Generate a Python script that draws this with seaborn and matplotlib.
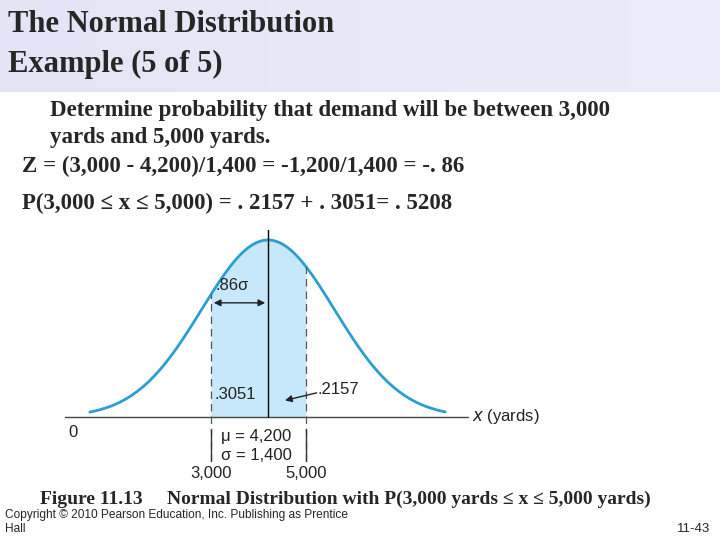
import numpy as np
import matplotlib
matplotlib.use("Agg")
import matplotlib.pyplot as plt
import seaborn as sns

# values
mu = 4200
sigma = 1400
lower, upper = 3000, 5000
area_left = .3051
area_right = .2157
z_lower = -.86
curve_from, curve_to = 450, 7930

sns.set_theme(style="white")
plt.rcParams["font.family"] = ["Liberation Serif", "DejaVu Serif"]

fig = plt.figure(figsize=(7.2, 5.4), dpi=100)

# header band
band = fig.add_axes([0, 1 - 92 / 540, 1, 92 / 540])
grad = np.linspace(0, 1, 256).reshape(1, -1)
band.imshow(grad, aspect="auto", cmap=matplotlib.colors.LinearSegmentedColormap.from_list(
    "b", ["#e4e4f6", "#ececfa"]), extent=[0, 1, 0, 1])
band.axis("off")

fig.text(8 / 720, 1 - 25 / 540, "The Normal Distribution", fontsize=22, fontweight="bold", va="center")
fig.text(8 / 720, 1 - 64 / 540, "Example (5 of 5)", fontsize=22, fontweight="bold", va="center")

body = [
    (50, 111, "Determine probability that demand will be between 3,000"),
    (50, 138, "yards and 5,000 yards."),
    (22, 166, "Z = (3,000 - 4,200)/1,400 = -1,200/1,400 = -. 86"),
    (22, 203, "P(3,000 \u2264 x \u2264 5,000) = . 2157 + . 3051= . 5208"),
]
for x, y, s in body:
    fig.text(x / 720, 1 - y / 540, s, fontsize=16.5, fontweight="bold", va="center")

# chart
ax = fig.add_axes([65 / 720, 60 / 540, 475 / 720, 250 / 540])
xs = np.linspace(curve_from, curve_to, 400)
ys = np.exp(-0.5 * ((xs - mu) / sigma) ** 2)
sns.lineplot(x=xs, y=ys, ax=ax, color="#2a9fd0", lw=2)
xf = np.linspace(lower, upper, 200)
ax.fill_between(xf, 0, np.exp(-0.5 * ((xf - mu) / sigma) ** 2), color="#c6e8fa", lw=0)
ax.set_xlim(-74, 9926)
ax.set_ylim(-0.356, 1.0565)
ax.axis("off")

ax.plot([-74, 8410], [0, 0], color="#444444", lw=1)
ax.plot([mu, mu], [0, 1.06], color="black", lw=1)
for b in (lower, upper):
    yb = np.exp(-0.5 * ((b - mu) / sigma) ** 2)
    ax.plot([b, b], [-0.25, yb], color="#555555", lw=0.9, ls=(0, (6, 4)))
    ax.plot([b, b], [-0.25, -0.07], color="#333333", lw=1)

ax.annotate("", xy=(lower, 0.645), xytext=(mu, 0.645),
            arrowprops=dict(arrowstyle="<|-|>", color="#222222", lw=1, mutation_scale=10))
sf = dict(family=["Liberation Sans", "DejaVu Sans"], fontsize=12, color="#222222")
ax.text(lower + 100, 0.72, f"{-z_lower:.2f}\u03c3".lstrip("0"), **sf)
ax.text(lower + 80, 0.10, f"{area_left:.4f}".lstrip("0"), **sf)
ax.text(upper + 250, 0.13, f"{area_right:.4f}".lstrip("0"), **sf)
ax.annotate("", xy=(mu + 300, 0.09), xytext=(upper + 280, 0.14),
            arrowprops=dict(arrowstyle="-|>", color="#222222", lw=1, mutation_scale=10))
ax.text(8500, 0, "$\\it{x}$ (yards)", ha="left", va="center", **sf)
ax.text(-10, -0.09, "0", ha="left", va="center", **sf)
ax.text(mu - 1000, -0.11, "\u03bc = 4,200", va="center", **sf)
ax.text(mu - 1000, -0.22, "\u03c3 = 1,400", va="center", **sf)
ax.text(lower, -0.32, "3,000", ha="center", va="center", **sf)
ax.text(upper, -0.32, "5,000", ha="center", va="center", **sf)

fig.text(40 / 720, 1 - 499 / 540,
         "Figure 11.13     Normal Distribution with P(3,000 yards \u2264 x \u2264 5,000 yards)",
         fontsize=14, fontweight="bold", va="center")
fig.text(5 / 720, 1 - 515 / 540, "Copyright \u00a9 2010 Pearson Education, Inc. Publishing as Prentice",
         family=["Liberation Sans"], fontsize=8.6, va="center")
fig.text(5 / 720, 1 - 529 / 540, "Hall", family=["Liberation Sans"], fontsize=8.6, va="center")
fig.text(710 / 720, 1 - 529 / 540, "11-43", family=["Liberation Sans"], fontsize=9.5, ha="right", va="center")

fig.savefig("out.png", dpi=100)
